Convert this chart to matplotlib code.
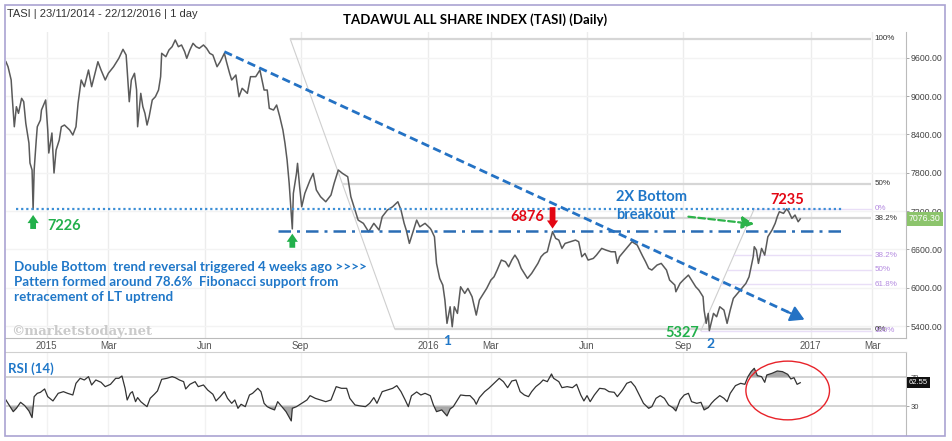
import matplotlib
matplotlib.use("Agg")
import matplotlib.pyplot as plt
import matplotlib.dates as mdates
from matplotlib.patches import Ellipse, Rectangle
import numpy as np
import pandas as pd

# ---------------- data ----------------
price_dates = [
    "2014-11-23", "2014-11-25", "2014-11-28", "2014-11-29", "2014-12-01", "2014-12-03", "2014-12-05", "2014-12-08",
    "2014-12-10", "2014-12-12", "2014-12-14", "2014-12-15", "2014-12-16", "2014-12-18", "2014-12-19", "2014-12-20",
    "2014-12-22", "2014-12-23", "2014-12-26", "2014-12-27", "2014-12-31", "2015-01-02", "2015-01-03", "2015-01-06",
    "2015-01-08", "2015-01-10", "2015-01-13", "2015-01-15", "2015-01-18", "2015-01-23", "2015-01-26", "2015-01-29",
    "2015-01-31", "2015-02-03", "2015-02-06", "2015-02-10", "2015-02-13", "2015-02-17", "2015-02-19", "2015-02-22",
    "2015-02-26", "2015-03-01", "2015-03-06", "2015-03-11", "2015-03-15", "2015-03-18", "2015-03-19", "2015-03-21",
    "2015-03-23", "2015-03-26", "2015-03-28", "2015-03-29", "2015-04-01", "2015-04-03", "2015-04-05", "2015-04-07",
    "2015-04-09", "2015-04-12", "2015-04-15", "2015-04-18", "2015-04-20", "2015-04-21", "2015-04-25", "2015-04-28",
    "2015-05-01", "2015-05-04", "2015-05-07", "2015-05-10", "2015-05-13", "2015-05-15", "2015-05-18", "2015-05-21",
    "2015-05-24", "2015-05-27", "2015-05-31", "2015-06-03", "2015-06-06", "2015-06-09", "2015-06-13", "2015-06-16",
    "2015-06-20", "2015-06-22", "2015-06-25", "2015-06-27", "2015-07-01", "2015-07-04", "2015-07-07", "2015-07-12",
    "2015-07-15", "2015-07-20", "2015-07-24", "2015-07-28", "2015-07-31", "2015-08-02", "2015-08-06", "2015-08-09",
    "2015-08-12", "2015-08-15", "2015-08-17", "2015-08-19", "2015-08-21", "2015-08-24", "2015-08-25", "2015-08-28",
    "2015-08-29", "2015-08-31", "2015-09-02", "2015-09-05", "2015-09-10", "2015-09-13", "2015-09-16", "2015-09-20",
    "2015-09-25", "2015-09-30", "2015-10-03", "2015-10-07", "2015-10-11", "2015-10-16", "2015-10-19", "2015-10-23",
    "2015-10-26", "2015-10-31", "2015-11-05", "2015-11-10", "2015-11-15", "2015-11-18", "2015-11-23", "2015-11-28",
    "2015-12-03", "2015-12-06", "2015-12-09", "2015-12-11", "2015-12-14", "2015-12-18", "2015-12-21", "2015-12-24",
    "2015-12-29", "2016-01-03", "2016-01-04", "2016-01-07", "2016-01-09", "2016-01-12", "2016-01-15", "2016-01-17",
    "2016-01-19", "2016-01-22", "2016-01-24", "2016-01-26", "2016-01-29", "2016-02-01", "2016-02-05", "2016-02-08",
    "2016-02-12", "2016-02-16", "2016-02-19", "2016-02-22", "2016-02-26", "2016-03-01", "2016-03-04", "2016-03-07",
    "2016-03-11", "2016-03-15", "2016-03-18", "2016-03-21", "2016-03-24", "2016-03-27", "2016-03-30", "2016-04-02",
    "2016-04-05", "2016-04-09", "2016-04-12", "2016-04-15", "2016-04-18", "2016-04-21", "2016-04-24", "2016-04-26",
    "2016-04-29", "2016-05-02", "2016-05-05", "2016-05-08", "2016-05-11", "2016-05-16", "2016-05-21", "2016-05-24",
    "2016-05-27", "2016-05-30", "2016-06-02", "2016-06-07", "2016-06-10", "2016-06-15", "2016-06-19", "2016-06-24",
    "2016-06-28", "2016-06-30", "2016-07-02", "2016-07-06", "2016-07-10", "2016-07-14", "2016-07-19", "2016-07-24",
    "2016-07-27", "2016-07-30", "2016-08-02", "2016-08-07", "2016-08-11", "2016-08-16", "2016-08-19", "2016-08-24",
    "2016-08-25", "2016-08-29", "2016-09-01", "2016-09-06", "2016-09-09", "2016-09-13", "2016-09-16", "2016-09-20",
    "2016-09-21", "2016-09-23", "2016-09-25", "2016-09-26", "2016-09-30", "2016-10-03", "2016-10-06", "2016-10-10",
    "2016-10-13", "2016-10-16", "2016-10-19", "2016-10-23", "2016-10-27", "2016-10-31", "2016-11-03", "2016-11-05",
    "2016-11-07", "2016-11-08", "2016-11-10", "2016-11-12", "2016-11-15", "2016-11-18", "2016-11-21", "2016-11-25",
    "2016-11-28", "2016-11-30", "2016-12-02", "2016-12-06", "2016-12-09", "2016-12-11", "2016-12-14", "2016-12-17",
    "2016-12-20", "2016-12-22",
]
price_close = [
    9537, 9459, 9251, 8989, 8519, 8833, 8729, 8964, 8911, 8573, 8363, 8264, 7951, 7842, 7226, 7842,
    8311, 8519, 8624, 8781, 8938, 8468, 8108, 8421, 7795, 8155, 8311, 8519, 8546, 8468, 8390, 8519,
    8886, 9251, 9146, 9407, 9146, 9407, 9537, 9407, 9251, 9356, 9459, 9590, 9731, 9642, 9407, 8911,
    9251, 9356, 9094, 8519, 9042, 8833, 8729, 8546, 8676, 8938, 8989, 9094, 9303, 9669, 9616, 9721,
    9772, 9877, 9772, 9799, 9694, 9590, 9721, 9825, 9772, 9747, 9799, 9747, 9669, 9642, 9459, 9537,
    9669, 9537, 9356, 9251, 9329, 8989, 9121, 9042, 9303, 9303, 9407, 9094, 9094, 8807, 8781, 8859,
    8676, 8468, 8259, 7998, 7633, 6920, 7477, 7789, 7946, 7580, 7267, 7477, 7685, 7789, 7529, 7424,
    7345, 7450, 7633, 7842, 7789, 7737, 7424, 7215, 7058, 7007, 6875, 7007, 6902, 7110, 7215, 7267,
    7345, 7215, 7007, 6902, 6693, 6902, 7058, 6953, 7007, 6928, 6902, 6797, 6380, 6145, 6040, 5806,
    5441, 5701, 5388, 5701, 5597, 6014, 5910, 5989, 5858, 5571, 5806, 5884, 5989, 6119, 6170, 6276,
    6432, 6406, 6327, 6432, 6510, 6432, 6302, 6224, 6145, 6224, 6302, 6380, 6484, 6536, 6562, 6693,
    6876, 6771, 6745, 6615, 6693, 6719, 6745, 6719, 6484, 6536, 6432, 6458, 6510, 6615, 6589, 6562,
    6562, 6380, 6484, 6562, 6641, 6719, 6667, 6500, 6406, 6302, 6276, 6354, 6380, 6276, 6119, 6041,
    5936, 6067, 6119, 6197, 6119, 6014, 5962, 5858, 5649, 5441, 5597, 5327, 5597, 5545, 5701, 5649,
    5441, 5649, 5832, 5910, 5989, 6067, 6170, 6327, 6484, 6641, 6589, 6380, 6615, 6510, 6797, 6902,
    7007, 7110, 7189, 7163, 7235, 7189, 7084, 7137, 7032, 7076.30,
]

rsi_dates = [
    "2014-11-23", "2014-11-26", "2014-11-30", "2014-12-03", "2014-12-07", "2014-12-11", "2014-12-15", "2014-12-18",
    "2014-12-20", "2014-12-23", "2014-12-26", "2014-12-30", "2015-01-02", "2015-01-07", "2015-01-12", "2015-01-17",
    "2015-01-21", "2015-01-26", "2015-01-29", "2015-02-02", "2015-02-06", "2015-02-10", "2015-02-13", "2015-02-17",
    "2015-02-22", "2015-02-26", "2015-03-03", "2015-03-08", "2015-03-11", "2015-03-14", "2015-03-17", "2015-03-19",
    "2015-03-22", "2015-03-24", "2015-03-27", "2015-03-29", "2015-04-01", "2015-04-04", "2015-04-07", "2015-04-10",
    "2015-04-14", "2015-04-17", "2015-04-19", "2015-04-21", "2015-04-26", "2015-05-01", "2015-05-04", "2015-05-08",
    "2015-05-12", "2015-05-14", "2015-05-18", "2015-05-23", "2015-05-26", "2015-05-31", "2015-06-04", "2015-06-09",
    "2015-06-12", "2015-06-16", "2015-06-20", "2015-06-23", "2015-06-27", "2015-06-30", "2015-07-03", "2015-07-06",
    "2015-07-10", "2015-07-14", "2015-07-17", "2015-07-22", "2015-07-25", "2015-07-28", "2015-07-31", "2015-08-03",
    "2015-08-07", "2015-08-10", "2015-08-14", "2015-08-18", "2015-08-23", "2015-08-24", "2015-08-28", "2015-09-02",
    "2015-09-07", "2015-09-10", "2015-09-15", "2015-09-20", "2015-09-25", "2015-09-30", "2015-10-05", "2015-10-10",
    "2015-10-15", "2015-10-18", "2015-10-23", "2015-10-28", "2015-11-02", "2015-11-06", "2015-11-10", "2015-11-13",
    "2015-11-18", "2015-11-23", "2015-11-28", "2015-12-02", "2015-12-06", "2015-12-10", "2015-12-13", "2015-12-16",
    "2015-12-21", "2015-12-25", "2015-12-29", "2016-01-03", "2016-01-06", "2016-01-09", "2016-01-14", "2016-01-19",
    "2016-01-22", "2016-01-25", "2016-01-28", "2016-02-01", "2016-02-06", "2016-02-10", "2016-02-14", "2016-02-16",
    "2016-02-19", "2016-02-24", "2016-02-28", "2016-03-04", "2016-03-09", "2016-03-13", "2016-03-17", "2016-03-21",
    "2016-03-25", "2016-03-29", "2016-04-02", "2016-04-06", "2016-04-09", "2016-04-13", "2016-04-17", "2016-04-20",
    "2016-04-24", "2016-04-28", "2016-04-30", "2016-05-05", "2016-05-08", "2016-05-13", "2016-05-18", "2016-05-22",
    "2016-05-26", "2016-05-29", "2016-06-01", "2016-06-04", "2016-06-08", "2016-06-13", "2016-06-18", "2016-06-22",
    "2016-06-27", "2016-06-30", "2016-07-05", "2016-07-09", "2016-07-13", "2016-07-17", "2016-07-21", "2016-07-25",
    "2016-07-30", "2016-08-02", "2016-08-06", "2016-08-10", "2016-08-14", "2016-08-18", "2016-08-22", "2016-08-25",
    "2016-08-29", "2016-09-02", "2016-09-06", "2016-09-09", "2016-09-14", "2016-09-18", "2016-09-21", "2016-09-25",
    "2016-09-28", "2016-10-01", "2016-10-06", "2016-10-10", "2016-10-13", "2016-10-16", "2016-10-21", "2016-10-26",
    "2016-10-30", "2016-11-02", "2016-11-05", "2016-11-08", "2016-11-11", "2016-11-15", "2016-11-18", "2016-11-20",
    "2016-11-25", "2016-11-30", "2016-12-05", "2016-12-10", "2016-12-13", "2016-12-16", "2016-12-19", "2016-12-22",
]
rsi_values = [
    38.7, 31.8, 22.6, 27.2, 35.5, 30.9, 23.6, 14.4, 43.3, 47.9, 49.3, 53.9, 43.3, 37.4, 47.9, 50.2,
    47.9, 45.6, 61.7, 68.6, 66.3, 70.9, 59.4, 66.3, 63.1, 57.1, 60.3, 68.6, 68.6, 71.8, 54.8, 38.7,
    47.9, 50.2, 36.4, 42.0, 36.4, 32.8, 29.5, 41.0, 46.6, 51.2, 59.4, 67.2, 68.6, 70.9, 69.5, 66.3,
    64.0, 53.9, 60.3, 64.0, 57.1, 59.4, 52.5, 46.6, 37.4, 43.3, 50.2, 41.0, 34.1, 38.7, 27.2, 32.8,
    29.5, 45.6, 47.9, 54.8, 50.2, 34.1, 29.5, 27.2, 25.0, 36.4, 29.5, 22.6, 9.8, 27.2, 29.5, 34.1,
    38.7, 44.7, 41.0, 38.7, 36.4, 38.7, 57.1, 54.8, 54.8, 41.0, 31.8, 30.5, 29.5, 34.1, 42.0, 34.1,
    50.2, 52.5, 54.8, 58.5, 50.2, 38.7, 29.5, 44.5, 49.8, 45.6, 47.9, 44.7, 31.8, 22.6, 25.0, 16.7,
    26.3, 29.5, 36.4, 45.6, 44.7, 44.7, 38.7, 32.8, 42.0, 50.2, 54.8, 61.7, 68.6, 64.0, 55.7, 64.9,
    66.3, 50.2, 45.6, 43.3, 50.2, 57.1, 61.7, 66.3, 64.0, 74.6, 68.6, 64.0, 55.7, 57.1, 55.7, 60.3,
    45.6, 37.4, 44.7, 36.4, 45.6, 54.8, 53.9, 50.2, 49.3, 43.3, 52.5, 61.7, 64.0, 57.1, 45.6, 34.1,
    27.2, 29.5, 41.0, 44.7, 41.0, 31.8, 28.2, 23.6, 38.7, 45.6, 47.9, 36.4, 34.1, 35.5, 25.0, 28.2,
    34.1, 38.7, 44.7, 41.0, 36.4, 47.9, 58.5, 61.7, 60.3, 70.9, 77.8, 82.4, 72.3, 70.9, 63.1, 73.2,
    75.5, 78.7, 77.8, 74.1, 67.7, 69.5, 60.3, 62.55,
]

price_ticks = [5400, 6000, 6600, 7200, 7800, 8400, 9000, 9600]
month_ticks = ["2015-01-01", "2015-03-01", "2015-06-01", "2015-09-01", "2016-01-01",
               "2016-03-01", "2016-06-01", "2016-09-01", "2017-01-01", "2017-03-01"]
month_labels = ["2015", "Mar", "Jun", "Sep", "2016", "Mar", "Jun", "Sep", "2017", "Mar"]

last_close = 7076.30
last_rsi = 62.55
rsi_levels = [70, 30]

support_level = 7230          # dotted line through the 7226 low
neckline_level = 6890         # dash-dot double bottom neckline
trend_start = ("2015-06-20", 9694)
trend_end = ("2016-12-26", 5500)
fib1_high = ("2015-08-22", 9893)
fib1_low = ("2015-11-30", 5353)
fib1_levels = [1.0, 0.5, 0.382, 0.0]
fib1_labels = ["100%", "50%", "38.2%", "0%"]
fib2_low = ("2016-09-18", 5327)
fib2_high = ("2016-11-08", 7235)
fib2_levels = [0.0, 0.382, 0.5, 0.618, 1.0]
fib2_labels = ["0%", "38.2%", "50%", "61.8%", "100%"]
fib_end = "2017-02-28"

# ---------------- figure ----------------
W, H = 952, 441
fig = plt.figure(figsize=(W / 100, H / 100), dpi=100)
fig.patch.set_facecolor("white")

d = lambda s: mdates.date2num(pd.Timestamp(s))
px_per_day = (810.7 - 46.7) / (d("2017-01-01") - d("2015-01-01"))
xl = d("2015-01-01") - (46.7 - 5.5) / px_per_day
xr = d("2017-01-01") + (906 - 810.7) / px_per_day

px_per_val = (326.0 - 57.7) / (9600 - 5400)
y_top = 9600 + (57.7 - 31.5) / px_per_val
y_bot = 5400 - (337.7 - 326.0) / px_per_val

ax = fig.add_axes([5.5 / W, 1 - 337.7 / H, (906 - 5.5) / W, (337.7 - 31.5) / H])
rax = fig.add_axes([5.5 / W, 1 - 435 / H, (906 - 5.5) / W, (435 - 352) / H])

pdates = pd.to_datetime(price_dates)
rdates = pd.to_datetime(rsi_dates)

sans = "Liberation Sans"
cal = "Lato"
grid_c = "#ececec"

# main price panel
ax.set_xlim(xl, xr)
ax.set_ylim(y_bot, y_top)
ax.set_facecolor("white")
for t in month_ticks:
    ax.axvline(d(t), color=grid_c, lw=1, zorder=0)
for v in price_ticks:
    ax.axhline(v, color="#f3f3f3", lw=1, zorder=0)
ax.plot(pdates, price_close, color="#5a5a5a", lw=1.1, zorder=3)

ax.yaxis.tick_right()
ax.set_yticks(price_ticks)
ax.set_yticklabels([f"{v:.2f}" for v in price_ticks], fontsize=6.3, color="#444", family=sans)
ax.tick_params(axis="y", length=2, width=0.6, color="#999", pad=1.5)
ax.set_xticks([d(t) for t in month_ticks])
ax.set_xticklabels(month_labels, fontsize=7, color="#555", family=sans)
ax.tick_params(axis="x", length=0, pad=2.5)
for s in ["left", "top"]:
    ax.spines[s].set_visible(False)
ax.spines["right"].set_color("#bbbbbb")
ax.spines["bottom"].set_color("#bbbbbb")
ax.spines["right"].set_linewidth(0.8)
ax.spines["bottom"].set_linewidth(0.8)

# Fibonacci tool 1 (grey)
f1x0, f1y0 = d(fib1_high[0]), fib1_high[1]
f1x1, f1y1 = d(fib1_low[0]), fib1_low[1]
ax.plot([f1x0, f1x1], [f1y0, f1y1], color="#cfcfcf", lw=0.8, zorder=1)
for lev, lab in zip(fib1_levels, fib1_labels):
    yv = f1y1 + lev * (f1y0 - f1y1)
    xs = f1x1 + (yv - f1y1) / (f1y0 - f1y1) * (f1x0 - f1x1)
    ax.plot([xs, d(fib_end)], [yv, yv], color="#d6d6d6", lw=1.6, zorder=1, solid_capstyle="butt")
    ax.text(d(fib_end) + 3, yv, lab, fontsize=5.8, color="#333", family=sans, va="center", ha="left")

# Fibonacci tool 2 (purple)
f2x0, f2y0 = d(fib2_high[0]), fib2_high[1]
f2x1, f2y1 = d(fib2_low[0]), fib2_low[1]
ax.plot([f2x1, f2x0], [f2y1, f2y0], color="#cfcfcf", lw=0.8, zorder=1)
for lev, lab in zip(fib2_levels, fib2_labels):
    yv = f2y0 - lev * (f2y0 - f2y1)
    xs = f2x1 + (yv - f2y1) / (f2y0 - f2y1) * (f2x0 - f2x1)
    ax.plot([xs, d(fib_end)], [yv, yv], color="#e9def7", lw=1.0, zorder=1)
    ax.text(d(fib_end) + 3, yv, lab, fontsize=5.8, color="#b48be0", family=sans, va="center", ha="left")

# horizontal levels
ax.plot([d("2014-12-03"), d("2017-01-31")], [support_level, support_level],
        color="#3d8fd6", lw=1.6, dashes=(1.0, 1.3), zorder=4)
ax.plot([d("2015-08-10"), d("2017-01-31")], [neckline_level, neckline_level],
        color="#2a6db5", lw=1.8, dashes=(5.0, 2.4, 1.2, 2.4), zorder=4)

# downtrend line with arrow head
tx0, ty0 = d(trend_start[0]), trend_start[1]
tx1, ty1 = d(trend_end[0]), trend_end[1]
ax.plot([tx0, tx1 - 0.02 * (tx1 - tx0)], [ty0, ty1 - 0.02 * (ty1 - ty0)],
        color="#2472c4", lw=2.0, dashes=(3.0, 1.6), zorder=4)
ax.annotate("", xy=(tx1, ty1), xytext=(tx1 - 0.03 * (tx1 - tx0), ty1 - 0.03 * (ty1 - ty0)),
            arrowprops=dict(arrowstyle="-|>,head_length=0.6,head_width=0.35", color="#2472c4", lw=1.5,
                            mutation_scale=14, shrinkA=0, shrinkB=0), zorder=5)

# green breakout arrow
ax.annotate("", xy=(d("2016-11-08"), 6997), xytext=(d("2016-09-06"), 7111),
            arrowprops=dict(arrowstyle="-|>,head_length=0.6,head_width=0.3", color="#2db34a", lw=1.6,
                            linestyle=(0, (3, 1.5)), mutation_scale=12, shrinkA=0, shrinkB=0), zorder=5)

green = "#22b04b"
red = "#e30613"
blue = "#1f77c8"

# block arrows
def block_arrow(x, y_from, y_to, color):
    ax.annotate("", xy=(d(x), y_to), xytext=(d(x), y_from),
                arrowprops=dict(arrowstyle="simple,head_length=0.45,head_width=0.62,tail_width=0.32",
                                color=color, lw=0, mutation_scale=13, shrinkA=0, shrinkB=0), zorder=6)

block_arrow("2014-12-19", 6919, 7138, green)
block_arrow("2015-08-24", 6625, 6845, green)
block_arrow("2016-04-29", 7260, 6925, red)

# texts
ax.text(d("2015-01-02"), 6965, "7226", color=green, fontsize=10.5, family=cal, fontweight="bold", va="center")
ax.text(d("2016-04-21"), 7111, "6876", color=red, fontsize=10.5, family=cal, fontweight="bold",
        va="center", ha="right")
ax.text(d("2016-11-23"), 7372, "7235", color=red, fontsize=10.5, family=cal, fontweight="bold", va="center")
ax.text(d("2016-08-15"), 5295, "5327", color=green, fontsize=10.5, family=cal, fontweight="bold", va="center")
ax.text(d("2016-06-29"), 7424, "2X Bottom", color=blue, fontsize=10.5, family=cal, fontweight="bold", va="center")
ax.text(d("2016-06-29"), 7138, "breakout", color=blue, fontsize=10.5, family=cal, fontweight="bold", va="center")
ax.text(d("2016-01-19"), 5165, "1", color=blue, fontsize=10, family=cal, fontweight="bold",
        va="center", ha="center", clip_on=False)
ax.text(d("2016-09-27"), 5118, "2", color=blue, fontsize=10, family=cal, fontweight="bold",
        va="center", ha="center", clip_on=False)
ax.text(d("2014-12-01"), 6417,
        "Double Bottom  trend reversal triggered 4 weeks ago >>>>\n"
        "Pattern formed around 78.6%  Fibonacci support from\n"
        "retracement of LT uptrend",
        color=blue, fontsize=9.6, family=cal, fontweight="bold", va="top", linespacing=1.3,
        transform=ax.transData)
ax.text(d("2014-11-28"), 5311, "\u00a9marketstoday.net", color="#cacaca", fontsize=9.5,
        family="DejaVu Serif", fontweight="bold", va="center")

# last price tag
ax.text(1.003, (last_close - y_bot) / (y_top - y_bot), f"{last_close:.2f}", transform=ax.transAxes,
        fontsize=6.3, color="white", family=sans, va="center", ha="left",
        bbox=dict(boxstyle="square,pad=0.25", fc="#8cc46c", ec="none"), clip_on=False)

# ---------------- RSI panel ----------------
rax.set_xlim(xl, xr)
rax.set_ylim(-9.6, 104.9)
for t in month_ticks:
    rax.axvline(d(t), color="#f2f2f2", lw=1, zorder=0)
for lv in rsi_levels:
    rax.axhline(lv, color="#cccccc", lw=1.2, zorder=1)
rv = np.array(rsi_values)
rax.fill_between(rdates, rv, 70, where=rv > 70, interpolate=True, color="#a9a9a9", zorder=2, lw=0)
rax.fill_between(rdates, rv, 30, where=rv < 30, interpolate=True, color="#a9a9a9", zorder=2, lw=0)
rax.plot(rdates, rv, color="#333333", lw=0.9, zorder=3)
rax.set_xticks([])
rax.yaxis.tick_right()
rax.set_yticks(rsi_levels)
rax.set_yticklabels([str(v) for v in rsi_levels], fontsize=5.5, color="#444", family=sans)
rax.tick_params(axis="y", length=2, width=0.6, color="#999", pad=1.5)
for s in ["left", "bottom"]:
    rax.spines[s].set_visible(False)
rax.spines["top"].set_color("#d0d0d0")
rax.spines["right"].set_color("#bbbbbb")
rax.spines["right"].set_linewidth(0.8)
rax.text(1.003, (last_rsi + 9.6) / 114.5, f"{last_rsi:.2f}", transform=rax.transAxes,
         fontsize=5.5, color="white", family=sans, va="center", ha="left",
         bbox=dict(boxstyle="square,pad=0.25", fc="#111111", ec="none"), clip_on=False)
rax.text(0.003, 0.80, "RSI (14)", transform=rax.transAxes, color=blue, fontsize=9.5,
         family=cal, fontweight="bold", va="center")
rax.add_patch(Ellipse((d("2016-12-10"), 51.8), width=80, height=81, fill=False,
                      ec="#e8232a", lw=1.0, zorder=5, clip_on=False))

# header texts and frame
fig.text(7 / W, 1 - 14 / H, "TASI | 23/11/2014 - 22/12/2016 | 1 day", fontsize=8, color="#333",
         family=sans, va="center", ha="left")
fig.text(475 / W, 1 - 20 / H, "TADAWUL ALL SHARE INDEX (TASI) (Daily)", fontsize=9.5, color="black",
         family=cal, fontweight="bold", va="center", ha="center")
fig.add_artist(Rectangle((5 / W, 1 - 436 / H), (945 - 5) / W, (436 - 5) / H, transform=fig.transFigure,
                         fill=False, ec="#aaa3d2", lw=1.2))

fig.savefig("out.png", dpi=100, facecolor="white")
